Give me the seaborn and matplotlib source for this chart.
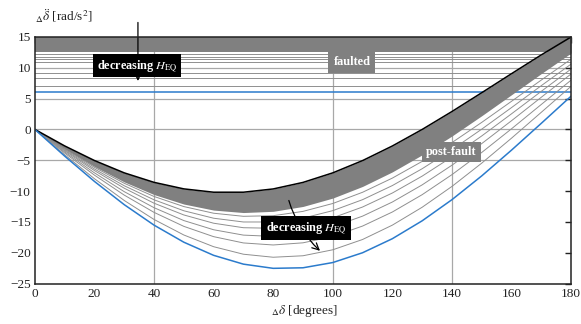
import numpy as np
import pandas as pd
import matplotlib
matplotlib.use("Agg")
import matplotlib.pyplot as plt
import seaborn as sns

# rotor angle deviation samples (degrees)
delta_deg = list(range(0, 181, 10))

# post-fault acceleration curves (rad/s^2)
post_black = [0, -2.68, -5.05, -7.05, -8.59, -9.65, -10.19, -10.19, -9.66, -8.60,
              -7.05, -5.06, -2.69, -0.01, 2.90, 5.95, 9.04, 12.09, 15.0]
post_band_low = [0, -3.15, -6.02, -8.52, -10.57, -12.11, -13.09, -13.49, -13.29, -12.50,
                 -11.14, -9.25, -6.89, -4.13, -1.07, 2.22, 5.63, 9.06, 12.4]
post_gray = [
    [0, -3.21, -6.15, -8.74, -10.88, -12.52, -13.60, -14.10, -14.00, -13.30,
     -12.02, -10.20, -7.90, -5.19, -2.14, 1.14, 4.56, 8.01, 11.4],
    [0, -3.34, -6.42, -9.14, -11.42, -13.20, -14.41, -15.02, -15.02, -14.40,
     -13.18, -11.40, -9.11, -6.38, -3.30, 0.04, 3.54, 7.10, 10.6],
    [0, -3.47, -6.68, -9.54, -11.97, -13.88, -15.22, -15.95, -16.04, -15.50,
     -14.34, -12.59, -10.32, -7.58, -4.46, -1.06, 2.53, 6.18, 9.8],
    [0, -3.65, -7.05, -10.10, -12.70, -14.79, -16.28, -17.15, -17.36, -16.90,
     -15.79, -14.07, -11.78, -9.00, -5.81, -2.30, 1.41, 5.22, 9.0],
    [0, -3.83, -7.42, -10.66, -13.46, -15.73, -17.40, -18.42, -18.75, -18.40,
     -17.37, -15.68, -13.40, -10.59, -7.34, -3.74, 0.10, 4.05, 8.0],
    [0, -4.11, -8.00, -11.53, -14.61, -17.13, -19.03, -20.25, -20.74, -20.50,
     -19.53, -17.86, -15.53, -12.63, -9.25, -5.47, -1.42, 2.78, 7.0],
]
post_blue = [0, -4.33, -8.44, -12.21, -15.53, -18.30, -20.43, -21.86, -22.54, -22.45,
             -21.60, -20.01, -17.73, -14.83, -11.40, -7.54, -3.36, 0.99, 5.4]

# faulted (constant) accelerations
faulted_band = [12.6, 15.0]
faulted_gray = [12.2, 11.8, 11.4, 10.9, 9.2, 8.4, 7.0]
faulted_blue = 6.0

grid_x = [40, 100, 140]
grid_y = [10, 5, 0, -5]

sns.set_theme(style="white")
plt.rcParams["font.family"] = ["Liberation Serif", "DejaVu Serif"]
plt.rcParams["mathtext.fontset"] = "stix"

fig = plt.figure(figsize=(5.81, 3.24), dpi=100)
ax = fig.add_axes([0.060, 0.125, 0.923, 0.761])

gray = "#808080"
line_gray = "#8f8f8f"
blue = "#2b7bcc"

for g in grid_x:
    ax.axvline(g, color="#a8a8a8", lw=0.9, zorder=0)
for g in grid_y:
    ax.axhline(g, color="#a8a8a8", lw=0.9, zorder=0)

# faulted family
ax.axhspan(faulted_band[0], faulted_band[1], color=gray, lw=0, zorder=1)
for lvl in faulted_gray:
    ax.axhline(lvl, color=line_gray, lw=0.7, zorder=1)
ax.axhline(faulted_blue, color=blue, lw=1.1, zorder=2)

# post-fault family
rows = []
for i, curve in enumerate(post_gray):
    for d, v in zip(delta_deg, curve):
        rows.append({"delta": d, "acc": v, "curve": i})
df = pd.DataFrame(rows)
sns.lineplot(data=df, x="delta", y="acc", hue="curve", palette=[line_gray] * len(post_gray),
             legend=False, lw=0.7, ax=ax, zorder=2)

ax.fill_between(delta_deg, post_band_low, post_black, color=gray, lw=0, zorder=3)
sns.lineplot(x=delta_deg, y=post_black, color="black", lw=1.1, ax=ax, zorder=4)
sns.lineplot(x=delta_deg, y=post_blue, color=blue, lw=1.1, ax=ax, zorder=4)

ax.set_xlim(0, 180)
ax.set_ylim(-25, 15)
ax.set_xticks(range(0, 181, 20))
ax.set_yticks(range(-25, 16, 5))
ax.set_xlabel("")
ax.set_ylabel("")
ax.tick_params(direction="in", length=4, width=1, top=True, right=True,
               labelsize=9.5, labelcolor="#222222", color="#222222", pad=3)
for s in ax.spines.values():
    s.set_color("#222222")
    s.set_linewidth(1.1)
    s.set_zorder(6)

# annotations
box_font = dict(color="white", fontsize=8.8, fontweight="bold",
                ha="center", va="center", zorder=6)
ax.annotate("", xy=(34.6, 7.4), xytext=(34.6, 17.8), annotation_clip=False,
            arrowprops=dict(arrowstyle="->", color="black", lw=0.9), zorder=5)
ax.text(34.3, 10.3, r"decreasing $\mathit{H}_{\mathrm{EQ}}$",
        bbox=dict(boxstyle="square,pad=0.3", fc="black", ec="none"), **box_font)

ax.annotate("", xy=(96.4, -20.0), xytext=(85.0, -11.1),
            arrowprops=dict(arrowstyle="->", color="black", lw=0.9,
                            connectionstyle="arc3,rad=0.15"), zorder=5)
ax.text(91.0, -16.0, r"decreasing $\mathit{H}_{\mathrm{EQ}}$",
        bbox=dict(boxstyle="square,pad=0.35", fc="black", ec="none"), **box_font)

ax.text(106.4, 10.9, "faulted",
        bbox=dict(boxstyle="square,pad=0.4", fc=gray, ec="none"), **box_font)
ax.text(139.7, -3.7, "post-fault",
        bbox=dict(boxstyle="square,pad=0.35", fc=gray, ec="none"), **box_font)

fig.text(35 / 581, 1 - 16 / 324, r"$_{\Delta}\ddot{\delta}$ [rad/s$^2$]", fontsize=9.5,
         color="#222222", ha="left", va="center")
fig.text(305 / 581, 1 - 311 / 324, r"$_{\Delta}\delta$ [degrees]", fontsize=9.5,
         color="#222222", ha="center", va="center")

fig.savefig("out.png", dpi=100)
